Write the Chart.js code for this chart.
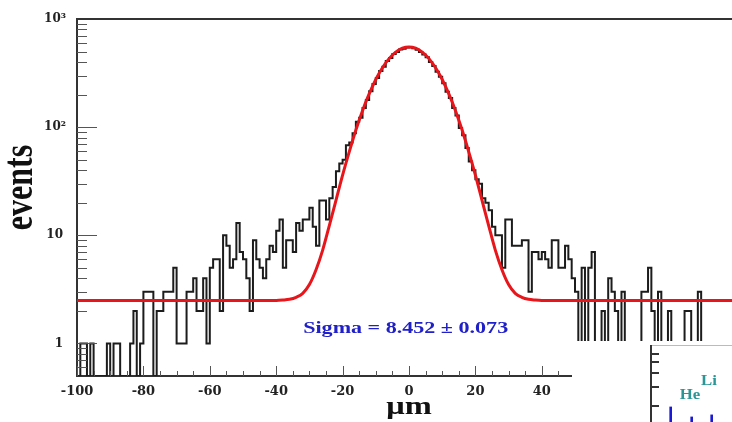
<!DOCTYPE html>
<html>
<head>
<meta charset="utf-8">
<title>residuals</title>
<script src="https://cdn.jsdelivr.net/npm/chart.js@4.4.1/dist/chart.umd.min.js"></script>
<style>
  html, body { margin: 0; padding: 0; background: #ffffff; overflow: hidden; }
  #mainBox { position: absolute; left: 0; top: 0; width: 760px; height: 422px; }
  #cover { position: absolute; left: 572px; top: 341px; width: 188px; height: 81px; background: #ffffff; }
  #insetBox { position: absolute; left: 78px; top: 4px; width: 110px; height: 77px; }
</style>
</head>
<body>
<div id="mainBox"><canvas id="mainChart"></canvas></div>
<div id="cover"><div id="insetBox"><canvas id="insetChart"></canvas></div></div>
<script>
// histogram, 1 um bins starting at -100
const binLow = -100;
const binWidth = 1;
const counts = [
    0, 1, 1, 0, 1, 0, 0, 0, 0, 1,            // -100
    0, 1, 1, 0, 0, 0, 1, 2, 0, 1,            // -90
    3, 3, 3, 0, 2, 2, 3, 3, 3, 5,            // -80
    1, 1, 1, 3, 3, 4, 2, 2, 4, 1,            // -70
    5, 6, 6, 2, 10, 8, 5, 6, 13, 7,          // -60
    6, 4, 2, 9, 6, 5, 4, 6, 8, 7,            // -50
    11, 14, 5, 9, 9, 7, 13, 11, 14, 14,      // -40
    18, 12, 8, 21, 21, 14, 22, 28, 39, 46,   // -30
    50, 68, 72, 88, 112, 122, 150, 178, 215, 250,  // -20
    285, 330, 362, 410, 436, 474, 495, 522, 532, 545, // -10
    548, 536, 520, 494, 470, 442, 400, 368, 325, 292, // 0
    255, 212, 186, 150, 128, 98, 84, 64, 48, 40,   // 10
    33, 30, 22, 20, 17, 12, 10, 10, 5, 14,   // 20
    14, 8, 8, 8, 9, 9, 3, 7, 7, 6,           // 30
    7, 6, 5, 9, 9, 5, 5, 8, 6, 4,            // 40
    3, 0, 5, 0, 5, 7, 0, 1, 2, 1,            // 50
    4, 3, 2, 0, 3, 0, 1, 0, 0, 1,            // 60
    3, 3, 5, 2, 0, 3, 0, 1, 2, 0,            // 70
    1, 0, 0, 2, 2, 0, 0, 3, 0, 0,            // 80
    0, 0, 0, 0, 0, 0, 0, 0, 0, 0             // 90
];

// red fit curve
const fitX = [-100, -40, -38, -36, -34, -32, -30, -28, -26, -24, -22, -20, -18, -16, -14, -12, -10, -8, -6, -4, -2,
              0, 2, 4, 6, 8, 10, 12, 14, 16, 18, 20, 22, 24, 26, 28, 30, 32, 34, 36, 38, 40, 100];
const fitY = [2.5, 2.5, 2.52, 2.56, 2.67, 2.9, 3.5, 4.8, 7.3, 12.3, 21, 36, 59, 94, 142, 203, 276, 354, 430, 494, 537,
              552, 537, 494, 430, 354, 276, 203, 142, 94, 59, 36, 21, 12.3, 7.3, 4.8, 3.5, 2.9, 2.67, 2.56, 2.52, 2.5, 2.5];

const sigmaText = 'Sigma = 8.452 \u00b1 0.073';

const yMin = 0.5;
const yMax = 1000;
const yTickValues = [1, 10, 100, 1000];
const yTickText = ['1\u2005', '10\u2005', '10\u00b2', '10\u00b3'];
const yMinorValues = [0.6, 0.7, 0.8, 0.9, 2, 3, 4, 5, 6, 7, 8, 9, 20, 30, 40, 50, 60, 70, 80, 90,
                      200, 300, 400, 500, 600, 700, 800, 900];

// corner of the neighbouring panel
const insetPeakX = [20.7, 41.7, 61.7];
const insetPeakY = [19.6, 15.9, 16.6];
const insetTicks = [20, 30, 40, 50, 60];
const insetNames = ['He', 'Li'];
const insetNameX = [40, 59];
const insetNameY = [23.2, 31.1];


const histPoints = counts.map((c, i) => ({ x: binLow + i * binWidth, y: c > 0 ? c : yMin }));
histPoints.push({ x: binLow + counts.length * binWidth, y: histPoints[histPoints.length - 1].y });
const fitPoints = fitX.map((x, i) => ({ x: x, y: fitY[i] }));

// draws text stretched like the scanned figure
function wideText(ctx, text, x, y, font, color, sx, rotate) {
    ctx.save();
    ctx.translate(x, y);
    if (rotate) ctx.rotate(-Math.PI / 2);
    ctx.scale(rotate ? 1 : sx, rotate ? sx : 1);
    ctx.font = font;
    ctx.fillStyle = color;
    ctx.textAlign = 'center';
    ctx.textBaseline = 'alphabetic';
    ctx.fillText(text, 0, 0);
    ctx.restore();
}

const rootFrame = {
    id: 'rootFrame',
    afterDatasetsDraw(chart) {
        const { ctx, chartArea: a, scales: { x, y } } = chart;
        ctx.save();
        ctx.strokeStyle = '#555555';
        ctx.lineWidth = 1;
        ctx.beginPath();
        yTickValues.forEach(v => {
            if (v >= yMax) return;
            const py = Math.round(y.getPixelForValue(v)) + 0.5;
            ctx.moveTo(a.left, py);
            ctx.lineTo(a.left + 20, py);
        });
        yMinorValues.forEach(v => {
            const py = Math.round(y.getPixelForValue(v)) + 0.5;
            ctx.moveTo(a.left, py);
            ctx.lineTo(a.left + 10, py);
        });
        for (let v = -100; v <= 100; v += 5) {
            const px = Math.round(x.getPixelForValue(v)) + 0.5;
            ctx.moveTo(px, a.bottom);
            ctx.lineTo(px, a.bottom - (v % 20 === 0 ? 10 : 5));
        }
        ctx.stroke();

        // top of the frame
        ctx.strokeStyle = '#333333';
        ctx.lineWidth = 2;
        ctx.beginPath();
        ctx.moveTo(a.left, a.top);
        ctx.lineTo(a.right, a.top);
        ctx.stroke();

        // fit result
        ctx.font = 'bold 17px "Liberation Serif"';
        const w = ctx.measureText(sigmaText).width;
        wideText(ctx, sigmaText, x.getPixelForValue(-1), y.getPixelForValue(1.245),
                 'bold 17px "Liberation Serif"', '#2020c8', 205 / w, false);

        // axis titles
        wideText(ctx, 'events', 32, (a.top + a.bottom) / 2 - 10, 'bold 32px "Liberation Serif"', '#111111', 1.3, true);
        wideText(ctx, '\u03bcm', (a.left + a.right) / 2, 414, 'bold 26px "Liberation Serif"', '#111111', 1.25, false);
        ctx.restore();
    }
};

new Chart(document.getElementById('mainChart'), {
    type: 'line',
    data: {
        datasets: [
            {
                label: 'fit',
                data: fitPoints,
                borderColor: '#e8151b',
                borderWidth: 3,
                pointRadius: 0,
                cubicInterpolationMode: 'monotone',
                fill: false
            },
            {
                label: 'residuals',
                data: histPoints,
                borderColor: '#1c1c1c',
                borderWidth: 2,
                pointRadius: 0,
                stepped: 'before',
                fill: false
            }
        ]
    },
    options: {
        responsive: true,
        maintainAspectRatio: false,
        animation: false,
        layout: {
            padding: { left: 0, right: 19, top: 19, bottom: 0 }
        },
        plugins: {
            legend: { display: false },
            tooltip: { enabled: false }
        },
        scales: {
            x: {
                type: 'linear',
                min: -100,
                max: 100,
                afterFit: s => { s.height = 46; },
                grid: { display: false },
                border: { display: true, color: '#333333', width: 2 },
                ticks: {
                    stepSize: 20,
                    autoSkip: false,
                    maxRotation: 0,
                    padding: 0,
                    color: '#222222',
                    font: { family: 'DejaVu Serif', weight: 'bold', size: 13 }
                }
            },
            y: {
                type: 'logarithmic',
                min: yMin,
                max: yMax,
                afterFit: s => { s.width = 77; },
                afterBuildTicks: s => { s.ticks = yTickValues.map(v => ({ value: v })); },
                grid: { display: false },
                border: { display: true, color: '#333333', width: 2 },
                ticks: {
                    padding: 3,
                    color: '#222222',
                    font: { family: 'DejaVu Serif', weight: 'bold', size: 12 },
                    callback: v => yTickText[yTickValues.indexOf(v)]
                }
            }
        }
    },
    plugins: [rootFrame]
});

const insetFrame = {
    id: 'insetFrame',
    afterDatasetsDraw(chart) {
        const { ctx, chartArea: a, scales: { x, y } } = chart;
        ctx.save();
        ctx.strokeStyle = '#bbbbbb';
        ctx.lineWidth = 1;
        ctx.beginPath();
        ctx.moveTo(a.left, a.top + 0.5);
        ctx.lineTo(a.right, a.top + 0.5);
        ctx.stroke();
        ctx.strokeStyle = '#333333';
        ctx.lineWidth = 2;
        ctx.beginPath();
        ctx.moveTo(a.left + 1, a.top);
        ctx.lineTo(a.left + 1, a.bottom);
        insetTicks.forEach(v => {
            const py = Math.round(y.getPixelForValue(v));
            ctx.moveTo(a.left + 1, py);
            ctx.lineTo(a.left + 9, py);
        });
        ctx.stroke();
        insetNames.forEach((t, i) => {
            wideText(ctx, t, x.getPixelForValue(insetNameX[i]), y.getPixelForValue(insetNameY[i]),
                     'bold 14px "Liberation Serif"', '#2a9696', 1.2, false);
        });
        ctx.restore();
    }
};

new Chart(document.getElementById('insetChart'), {
    type: 'bar',
    data: {
        datasets: [{
            data: insetPeakX.map((x, i) => ({ x: x, y: insetPeakY[i] })),
            backgroundColor: '#1a1ad6',
            barThickness: 2
        }]
    },
    options: {
        responsive: true,
        maintainAspectRatio: false,
        animation: false,
        layout: { padding: 0 },
        plugins: {
            legend: { display: false },
            tooltip: { enabled: false }
        },
        scales: {
            x: { type: 'linear', min: 0, max: 110, offset: false, display: false },
            y: { type: 'logarithmic', min: 14.3, max: 71.7, display: false }
        }
    },
    plugins: [insetFrame]
});
</script>
</body>
</html>
